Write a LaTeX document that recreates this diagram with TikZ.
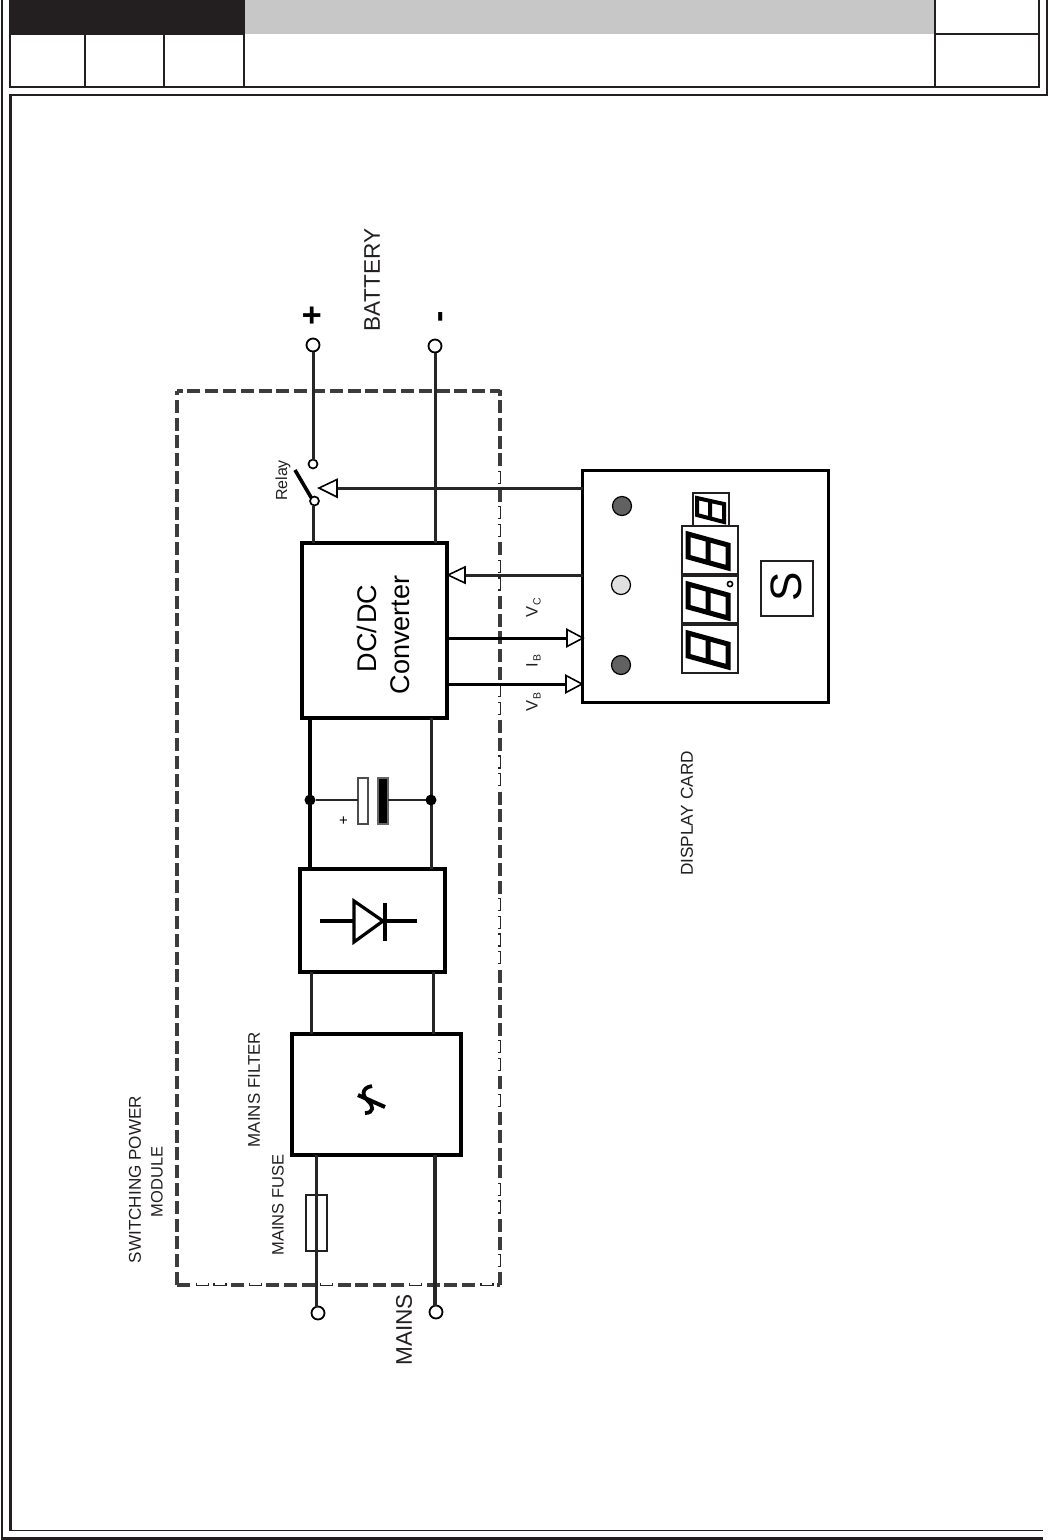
\documentclass[tikz,border=0pt]{standalone}
\usepackage{fontspec}
\setmainfont{Liberation Sans}
\newcommand{\fsz}[1]{\fontsize{#1}{#1}\selectfont}
\definecolor{ink}{HTML}{231F20}
\definecolor{wire}{HTML}{262626}
\tikzset{
  frameline/.style={draw=ink,line width=2pt},
  blockbox/.style={draw=black,line width=3.1pt,fill=white,inner sep=0pt,outer sep=0pt},
  thinbox/.style={draw=ink,line width=1.4pt,fill=white,inner sep=0pt,outer sep=0pt},
  panelbox/.style={draw=ink,line width=1.3pt,fill=white,inner sep=0pt,outer sep=0pt},
  wirethick/.style={draw=wire,line width=3pt},
  terminal/.style={circle,draw=black,line width=1.8pt,fill=white,minimum size=13pt,inner sep=0pt,outer sep=0pt},
  smallterm/.style={circle,draw=black,line width=1.7pt,fill=white,minimum size=9pt,inner sep=0pt,outer sep=0pt},
  junction/.style={circle,fill=black,minimum size=11pt,inner sep=0pt,outer sep=0pt},
  led/.style={circle,draw=black,line width=1.2pt,minimum size=19pt,inner sep=0pt,outer sep=0pt},
  opentip/.style={draw=black,line width=1.6pt,fill=white,line join=miter},
  label/.style={text=ink,inner sep=0pt,rotate=90,align=center},
  segline/.style={draw=black,line width=5pt,line join=miter},
  dashthick/.style={draw=wire!90!white,line width=3.05pt},
  dashthin/.style={draw=wire,line width=1.2pt}
}
\newcommand{\twodigits}[1]{%
  \draw[segline,shift={(0,#1)}] (688,8) -- (728,19) -- (728,42) -- (688,31) -- cycle (708,13.5) -- (708,36.5);}
\begin{document}
\begin{tikzpicture}[x=1pt,y=-1pt]
\useasboundingbox (0,0) rectangle (1048,1540);
% page frame
\fill[ink] (10,0) rectangle (245,35);
\fill[black!22] (245,0) rectangle (935,34);
\draw[frameline] (10,0) -- (10,87) -- (1039,87) -- (1039,0);
\draw[frameline] (85,35) -- (85,87) (164,35) -- (164,87) (244,35) -- (244,87);
\draw[frameline] (935,0) -- (935,87) (935,34) -- (1039,34);
\draw[draw=ink,line width=1.6pt] (2,0) -- (2,1537);
\draw[draw=ink,line width=3pt] (0.5,1538) -- (1043,1538);
\draw[draw=ink,line width=2pt] (1047,0) -- (1047,95) -- (10,95);
\draw[draw=ink,line width=3pt] (10,94) -- (10,1530);
\draw[draw=ink,line width=1.6pt] (9,1530.5) -- (1043,1530.5);
% dashed module outline
\draw[dashthick,dash pattern=on 13pt off 4.8pt] (177,1285) -- (177,391);
\draw[dashthick,dash pattern=on 13pt off 4.8pt,dash phase=3pt] (500,391) -- (177,391);
\draw[dashthick] (500,389.6) -- (500,396);
\foreach \k in {0,1,2,3,5,8,11,12,13,14,15,18,19,22,23,24,25,26,27,32,33,34,35,38,40,41,42,43,46,47,49}
  \draw[dashthick] (500,{400+17.8*\k}) -- (500,{413+17.8*\k});
\foreach \k in {4,6,7,9,10,16,17,20,21,28,29,30,31,36,37,39,44,45,48}
  \draw[dashthin] (498,{400+17.8*\k}) -- (500.5,{400+17.8*\k}) -- (500.5,{412+17.8*\k}) -- (498,{412+17.8*\k});
\foreach \k in {1,2,3,5,6,7,8,10,11,12,14,17}
  \draw[dashthick] ({493-17.8*\k},1285) -- ({480-17.8*\k},1285);
\foreach \k in {0,4,9,13,15,16}
  \draw[dashthin] ({493-17.8*\k},1283) -- ({493-17.8*\k},1285.6) -- ({481-17.8*\k},1285.6) -- ({481-17.8*\k},1283);
\draw[dashthick] (500,1285) -- (497,1285);
% blocks
\node[blockbox,minimum width=169pt,minimum height=121pt] (filter) at (376.5,1094.5) {};
\node[blockbox,minimum width=145pt,minimum height=103pt] (rect) at (372.5,920.5) {};
\node[blockbox,minimum width=145pt,minimum height=175pt] (dcdc) at (374.5,630.5) {};
\node[blockbox,minimum width=246pt,minimum height=232pt] (disp) at (705.5,586.5) {};
\node[thinbox,minimum width=21pt,minimum height=56pt] (fuse) at (316.5,1223) {};
% terminals
\node[terminal] (batp) at (313,345) {};
\node[terminal] (batn) at (435,346) {};
\node[terminal] (mainsa) at (318,1313) {};
\node[terminal] (mainsb) at (436,1312) {};
\node[smallterm] (relayt) at (313,464) {};
\node[smallterm] (relayb) at (314.5,501) {};
\coordinate (wa) at (310,800);
\coordinate (wb) at (431,800);
\coordinate (wc) at (311,1000);
\coordinate (wd) at (433,1000);
\coordinate (we) at (316.5,1190);
\coordinate (wf) at (435,1190);
\coordinate (wg) at (313,520);
% wires
\draw[wirethick] (batp) -- (relayt);
\draw[wirethick] (batn) -- (batn |- dcdc.north);
\draw[wirethick] (wg |- relayb.south) -- (wg |- dcdc.north);
\draw[draw=black,line width=3.2pt] (wa |- dcdc.south) -- (wa |- rect.north);
\draw[wirethick] (wb |- dcdc.south) -- (wb |- rect.north);
\draw[wirethick] (wc |- rect.south) -- (wc |- filter.north);
\draw[wirethick] (wd |- rect.south) -- (wd |- filter.north);
\draw[wirethick] (we |- filter.south) -- (we |- mainsa.north);
\draw[draw=wire,line width=3.2pt] (wf |- filter.south) -- (wf |- mainsb.north);
% relay blade
\draw[draw=black,line width=3.6pt] (relayb.north west) -- (295,470);
% capacitor
\node[draw=black!70,line width=1.2pt,fill=white,minimum width=10pt,minimum height=46pt,inner sep=0pt,outer sep=0pt] (capa) at (363,801) {};
\node[draw=black!60,line width=1.2pt,fill=black,minimum width=10pt,minimum height=46pt,inner sep=0pt,outer sep=0pt] (capb) at (383,801) {};
\node[junction] (ja) at (wa) {};
\node[junction] (jb) at (wb) {};
\draw[draw=wire,line width=2.6pt] (ja) -- (ja -| capa.west);
\draw[draw=wire,line width=2.6pt] (jb) -- (jb -| capb.east);
\node[inner sep=0pt,text=black] (capplus) at (343.5,821.5) {\fsz{15}+};
% diode
\coordinate (dl) at (320,921);
\coordinate (dr) at (417,921);
\draw[draw=black,line width=3.2pt] (dl) -- (dr);
\draw[draw=black,line width=3.2pt,fill=white,line join=miter] (354,901) -- (354,942) -- (383,921) -- cycle;
\draw[draw=black,line width=3.2pt] (385,903) -- (385,941);
% filter symbol
\draw[draw=black,line width=4pt] (358,1095) -- (385,1107);
\draw[draw=black,line width=3.8pt] (372,1086) .. controls (360,1088) and (363,1097) .. (368,1101) .. controls (374,1106) and (374,1113) .. (365,1113);
% signal arrows
\coordinate (a1) at (337,488);
\coordinate (a2) at (465,575);
\coordinate (a3) at (567,638);
\coordinate (a4) at (566,684);
\draw[draw=wire,line width=3pt] (a1 -| disp.west) -- (a1);
\draw[draw=wire,line width=3pt] (a2 -| disp.west) -- (a2);
\draw[draw=black,line width=3pt] (a3 -| dcdc.east) -- (a3);
\draw[draw=black,line width=3pt] (a4 -| dcdc.east) -- (a4);
\draw[opentip] (337,479.5) -- (337,497) -- (319,488) -- cycle;
\draw[opentip] (465,567) -- (465,583) -- (448,575) -- cycle;
\draw[opentip] (567,629.5) -- (567,646.5) -- (583,638) -- cycle;
\draw[opentip] (566,675.5) -- (566,692.5) -- (582,684) -- cycle;
% display card contents
\node[led,fill=black!62] (led1) at (622,506) {};
\node[led,fill=black!12] (led2) at (621,585) {};
\node[led,fill=black!62] (led3) at (621,665) {};
\node[panelbox,minimum width=36pt,minimum height=33pt] (pan0) at (711,509.5) {};
\node[panelbox,minimum width=56pt,minimum height=48pt] (pan1) at (710,550) {};
\node[panelbox,minimum width=56pt,minimum height=47pt] (pan2) at (710,599.5) {};
\node[panelbox,minimum width=56pt,minimum height=48pt] (pan3) at (710,649) {};
\twodigits{526}
\twodigits{576}
\twodigits{625}
\draw[segline,line width=4pt] (697,498) -- (724,504) -- (724,522) -- (697,515) -- cycle (710,501) -- (710,518);
\draw[draw=black,line width=1.6pt] (730,584) circle (2.6pt);
\node[panelbox,minimum width=52pt,minimum height=55pt] (sbox) at (787,588.5) {};
\node[label,text=black] (stext) at (786,587) {\fsz{44}S};
% labels
\node[label] (lbat) at (372,280) {\fsz{22.6}BATTERY};
\node[label,text=black] (lplus) at (314,316) {\fsz{34}\bfseries +};
\node[label,text=black] (lminus) at (444,317) {\fsz{34}\bfseries -};
\node[label] (lrelay) at (283,480.5) {\fsz{16}Relay};
\node[label,text=black] (ldc) at (367,628.5) {\fsz{27}DC/\hspace{0.08em}DC};
\node[label,text=black] (lconv) at (400,635) {\fsz{27}Converter};
\node[label] (lvc) at (533.5,608) {\fsz{16.5}V\hspace{1pt}\raisebox{-3pt}{\fsz{10.5}C}};
\node[label] (lib) at (533.5,661) {\fsz{16.5}I\hspace{2pt}\raisebox{-3pt}{\fsz{10.5}B}};
\node[label] (lvb) at (533.5,701.5) {\fsz{16.5}V\hspace{1pt}\raisebox{-3pt}{\fsz{10.5}B}};
\node[label] (ldisp) at (687,813.5) {\fsz{17.2}DISPLAY CARD};
\node[label] (lfilter) at (254,1089.5) {\fsz{16.9}MAINS FILTER};
\node[label] (lfuse) at (278,1205) {\fsz{16.5}MAINS FUSE};
\node[label] (lsw) at (135,1179.5) {\fsz{17.1}SWITCHING POWER};
\node[label] (lmod) at (157,1182) {\fsz{16.5}MODULE};
\node[label] (lmains) at (404,1330) {\fsz{22.6}MAINS};
\end{tikzpicture}
\end{document}
